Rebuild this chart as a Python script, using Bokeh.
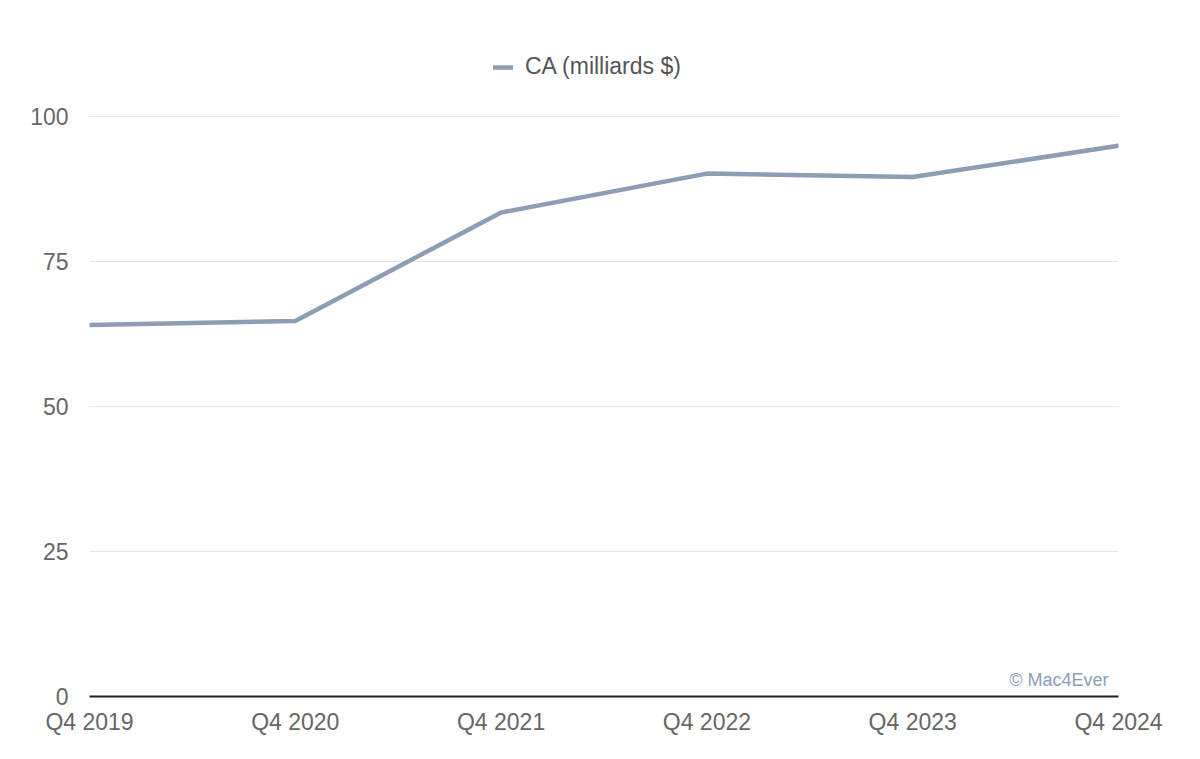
from bokeh.plotting import figure
from bokeh.models import Range1d, FixedTicker, Legend, Label
from bokeh.embed import file_html
from bokeh.resources import INLINE

quarters = ["Q4 2019", "Q4 2020", "Q4 2021", "Q4 2022", "Q4 2023", "Q4 2024"]
revenue = [64.0, 64.7, 83.4, 90.1, 89.5, 94.9]
y_ticks = [0, 25, 50, 75, 100]
series_name = "CA (milliards $)"

xs = list(range(len(quarters)))
FONT = "Liberation Sans"

p = figure(width=1200, height=759, output_backend="svg", toolbar_location=None,
           x_range=Range1d(0, len(quarters) - 1), y_range=Range1d(0, 112),
           min_border_left=89, min_border_right=82, min_border_top=46, min_border_bottom=63)
p.outline_line_color = None
p.background_fill_color = "white"
p.border_fill_color = "white"

r = p.line(xs, revenue, line_color="#8d9db6", line_width=4.5, line_join="round", line_cap="round")

# x axis
p.xaxis.ticker = FixedTicker(ticks=xs)
p.xaxis.major_label_overrides = {i: q for i, q in enumerate(quarters)}
p.xaxis.axis_line_color = "#222222"
p.xaxis.axis_line_width = 2
p.xaxis.major_tick_line_color = None
p.xaxis.minor_tick_line_color = None
p.xaxis.major_label_standoff = 6
p.xaxis.major_label_text_font = FONT
p.xaxis.major_label_text_font_size = "23px"
p.xaxis.major_label_text_color = "#666666"
p.xgrid.grid_line_color = None

# y axis
p.yaxis.ticker = FixedTicker(ticks=y_ticks)
p.yaxis.axis_line_color = None
p.yaxis.major_tick_line_color = None
p.yaxis.minor_tick_line_color = None
p.yaxis.major_label_standoff = 15
p.yaxis.major_label_text_font = FONT
p.yaxis.major_label_text_font_size = "23px"
p.yaxis.major_label_text_color = "#666666"
p.ygrid.ticker = FixedTicker(ticks=y_ticks[1:])
p.ygrid.grid_line_color = "#e6e6e6"
p.ygrid.grid_line_width = 1

legend = Legend(items=[(series_name, [r])], location=(404, 616),
                border_line_alpha=0, background_fill_alpha=0,
                label_text_font=FONT, label_text_font_size="23px",
                label_text_color="#555555", glyph_width=20, label_standoff=12,
                padding=0, margin=0)
p.add_layout(legend)

wm = Label(x=len(quarters) - 1, y=2.8, text="© Mac4Ever", text_align="right",
           text_baseline="middle", x_offset=-10, text_font=FONT,
           text_font_size="18px", text_color="#8aa0b8")
p.add_layout(wm)

open("out.html", "w").write(file_html(p, INLINE))
